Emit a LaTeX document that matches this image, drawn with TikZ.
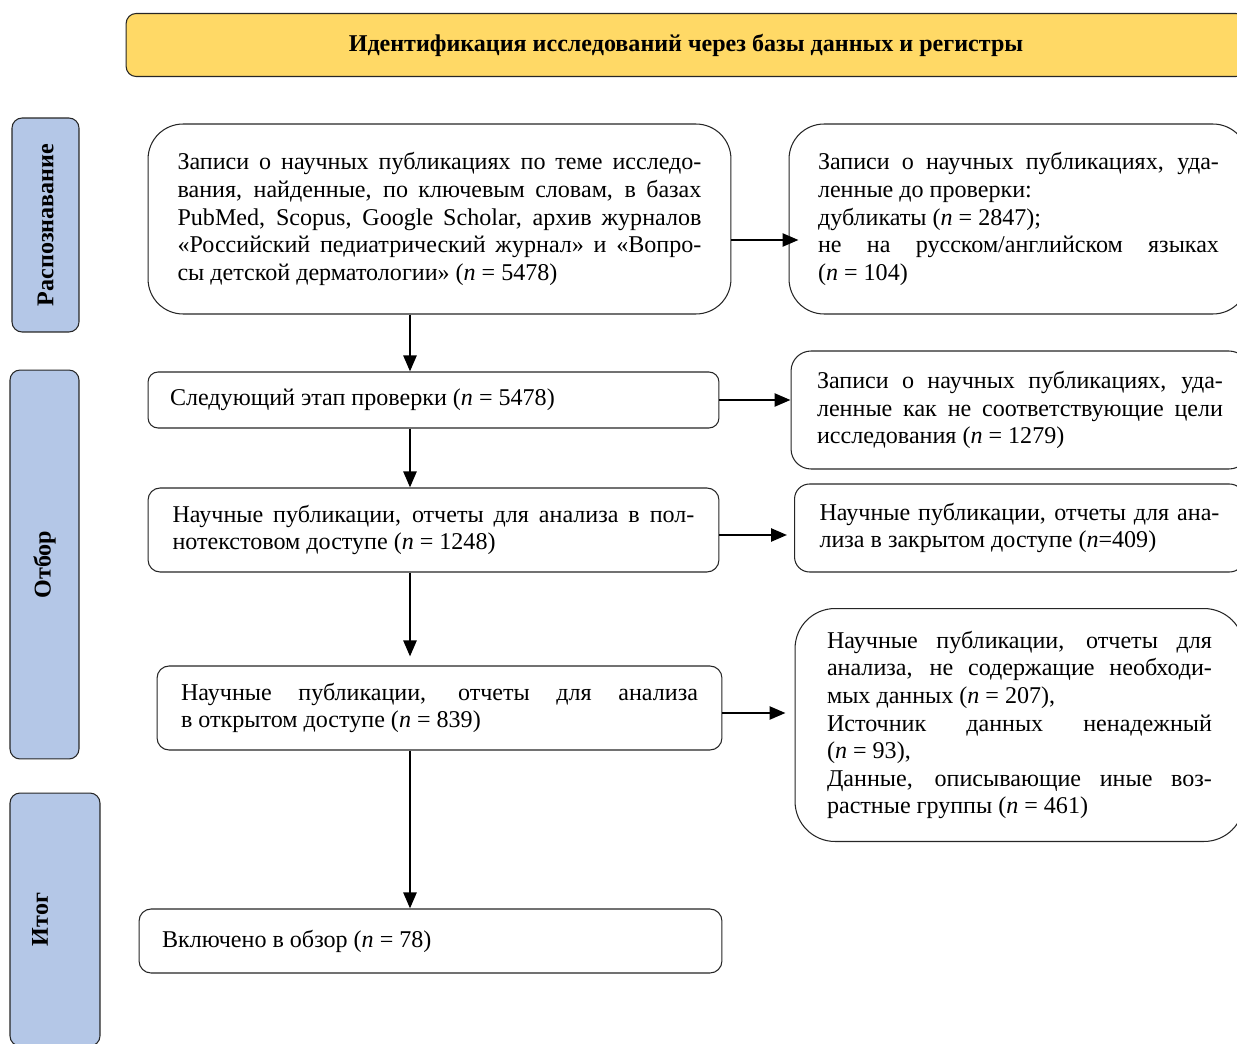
\documentclass[tikz,border=0pt]{standalone}
\usepackage{fontspec}
\setmainfont{Liberation Serif}
\usetikzlibrary{arrows.meta}
\definecolor{titlefill}{HTML}{FFD966}
\definecolor{sidefill}{HTML}{B4C7E7}

\begin{document}
\begin{tikzpicture}[x=0.02cm,y=-0.02cm,
    box/.style={draw=black!85,line width=0.6pt,fill=white,align=justify,
      font=\fontsize{13.7pt}{15.7pt}\selectfont},
    side/.style={draw=black!85,line width=0.6pt,fill=sidefill,rounded corners=0.2cm,
      rotate=90,font=\fontsize{13.7pt}{15.7pt}\selectfont\bfseries},
    arr/.style={line width=1.4pt,-{Triangle[length=0.32cm,width=0.26cm]}}]
    \useasboundingbox (0,0) rectangle (1237,1044);
    \clip (0,0) rectangle (1237,1044);

    % Заголовок
    \node[draw=black!85,line width=0.6pt,fill=titlefill,rounded corners=0.2cm,
      minimum width=22.4cm,minimum height=1.26cm,
      font=\fontsize{13.7pt}{15.7pt}\selectfont\bfseries] (title) at (686,45)
      {Идентификация исследований через базы данных и регистры};

    % Этапы
    \node[side,minimum width=4.28cm,minimum height=1.34cm] (s1) at (45.5,225) {Распознавание};
    \node[side,minimum width=7.78cm,minimum height=1.38cm] (s2) at (44.5,564.5) {Отбор};
    \node[side,minimum width=5.06cm,minimum height=1.8cm,text depth=0.6cm] (s3) at (55,919.5) {Итог};

    % Основной столбец
    \node[box,rounded corners=0.7cm,text width=10.48cm,inner xsep=0.59cm,minimum height=3.8cm] (b1) at (439.5,219)
      {Записи о научных публикациях по теме исследо-\linebreak вания, найденные, по ключевым словам, в базах\linebreak PubMed, Scopus, Google Scholar, архив журналов\linebreak «Российский педиатрический журнал» и «Вопро-\linebreak сы детской дерматологии» (\textit{n}~=~5478)};
    \node[box,rounded corners=0.2cm,text width=10.54cm,inner xsep=0.44cm,minimum height=1.12cm,align=flush left] (b2) at (433.5,400)
      {Следующий этап проверки (\textit{n}~=~5478)};
    \node[box,rounded corners=0.24cm,text width=10.44cm,inner xsep=0.49cm,minimum height=1.68cm] (b3) at (433.5,530)
      {Научные публикации, отчеты для анализа в пол-\linebreak нотекстовом доступе (\textit{n}~=~1248)};
    \node[box,rounded corners=0.24cm,text width=10.34cm,inner xsep=0.48cm,minimum height=1.68cm] (b4) at (439.5,708)
      {Научные публикации, отчеты для анализа\linebreak в открытом доступе (\textit{n}~=~839)};
    \node[box,rounded corners=0.24cm,text width=10.74cm,inner xsep=0.46cm,minimum height=1.28cm,align=flush left] (b5) at (430.5,941)
      {Включено в обзор (\textit{n}~=~78)};

    % Исключенные
    \node[box,rounded corners=0.7cm,text width=8.02cm,inner xsep=0.58cm,minimum height=3.8cm] (r1) at (1018.5,219)
      {Записи о научных публикациях, уда-\linebreak ленные до проверки:\\ дубликаты (\textit{n}~=~2847);\\ не на русском/английском языках\linebreak (\textit{n}~=~104)};
    \node[box,rounded corners=0.4cm,text width=8.12cm,inner xsep=0.52cm,minimum height=2.36cm] (r2) at (1020,410)
      {Записи о научных публикациях, уда-\linebreak ленные как не соответствующие цели\linebreak исследования (\textit{n}~=~1279)};
    \node[box,rounded corners=0.3cm,text width=8.0cm,inner xsep=0.5cm,minimum height=1.76cm] (r3) at (1019.5,528)
      {Научные публикации, отчеты для ана-\linebreak лиза в закрытом доступе (\textit{n}=409)};
    \node[box,rounded corners=0.8cm,text width=7.7cm,inner xsep=0.64cm,minimum height=4.66cm] (r4) at (1019.5,725)
      {Научные публикации, отчеты для\linebreak анализа, не содержащие необходи-\linebreak мых данных (\textit{n}~=~207),\\ Источник данных ненадежный\linebreak (\textit{n}~=~93),\\ Данные, описывающие иные воз-\linebreak растные группы (\textit{n}~=~461)};

    % Стрелки
    \coordinate (axis) at (410,0);
    \draw[arr] (b1.south -| axis) -- (b2.north -| axis);
    \draw[arr] (b2.south -| axis) -- (b3.north -| axis);
    \draw[arr,shorten >=0.18cm] (b3.south -| axis) -- (b4.north -| axis);
    \draw[arr] (b4.south -| axis) -- (b5.north -| axis);
    \draw[arr,shorten >=-0.2cm] (b1.east |- 0,240) -- (r1.west |- 0,240);
    \draw[arr] (b2.east) -- (b2.east -| r2.west);
    \draw[arr,shorten >=0.14cm] (b3.east |- 0,535) -- (r3.west |- 0,535);
    \draw[arr,shorten >=0.18cm] (b4.east |- 0,713) -- (r4.west |- 0,713);
\end{tikzpicture}
\end{document}
